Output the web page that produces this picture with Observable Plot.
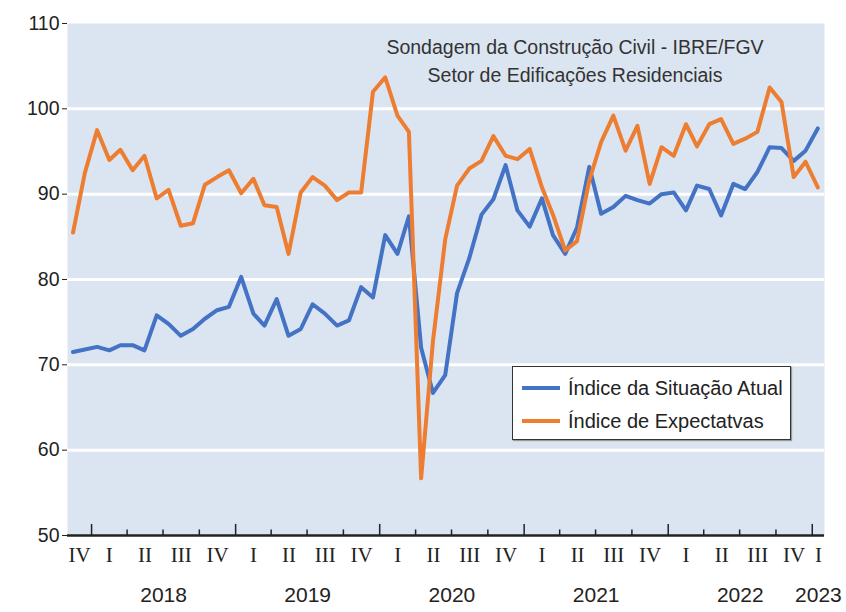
<!DOCTYPE html>
<html>
<head>
<meta charset="utf-8">
<script src="https://cdn.jsdelivr.net/npm/d3@7"></script>
<script src="https://cdn.jsdelivr.net/npm/@observablehq/plot@0.6"></script>
<style>
  body { margin: 0; background: #fff; }
  #wrap { position: relative; width: 846px; height: 612px; font-family: "Liberation Sans", Arial, sans-serif; }
  #title { position: absolute; left: 375px; width: 400px; top: 33px; text-align: center; color: #333; font-size: 19.5px; line-height: 28px; }
  #legend { position: absolute; left: 512px; top: 366px; width: 279px; height: 74px; border: 1.5px solid #333; background: #fff; box-shadow: 1px 1px 1px #999; box-sizing: border-box; }
  .row { position: absolute; left: 0; height: 30px; display: flex; align-items: center; font-size: 20px; color: #222; }
  .swatch { width: 38px; height: 0; border-top: 4px solid; margin-left: 9px; margin-right: 8px; }
</style>
</head>
<body>
<div id="wrap">
  <div id="chart"></div>
  <div id="title"><div>Sondagem da Construção Civil - IBRE/FGV</div><div>Setor de Edificações Residenciais</div></div>
  <div id="legend"></div>
</div>
<script>
// ---- data ----
const months = ["2017-11","2017-12",
  "2018-01","2018-02","2018-03","2018-04","2018-05","2018-06","2018-07","2018-08","2018-09","2018-10","2018-11","2018-12",
  "2019-01","2019-02","2019-03","2019-04","2019-05","2019-06","2019-07","2019-08","2019-09","2019-10","2019-11","2019-12",
  "2020-01","2020-02","2020-03","2020-04","2020-05","2020-06","2020-07","2020-08","2020-09","2020-10","2020-11","2020-12",
  "2021-01","2021-02","2021-03","2021-04","2021-05","2021-06","2021-07","2021-08","2021-09","2021-10","2021-11","2021-12",
  "2022-01","2022-02","2022-03","2022-04","2022-05","2022-06","2022-07","2022-08","2022-09","2022-10","2022-11","2022-12",
  "2023-01"];
const situacaoAtual = [71.5, 71.8,
  72.1, 71.7, 72.3, 72.3, 71.7, 75.8, 74.8, 73.4, 74.2, 75.4, 76.4, 76.8,
  80.3, 76.0, 74.6, 77.7, 73.4, 74.2, 77.1, 76.0, 74.6, 75.2, 79.1, 77.9,
  85.2, 83.0, 87.4, 72.0, 66.7, 68.8, 78.4, 82.5, 87.6, 89.4, 93.4, 88.1,
  86.2, 89.5, 85.2, 83.0, 86.1, 93.2, 87.7, 88.5, 89.8, 89.3, 88.9, 90.0,
  90.2, 88.1, 91.0, 90.6, 87.5, 91.2, 90.6, 92.6, 95.5, 95.4, 93.9, 95.1,
  97.7];
const expectativas = [85.5, 92.5,
  97.5, 94.0, 95.2, 92.8, 94.5, 89.5, 90.5, 86.3, 86.6, 91.1, 92.0, 92.8,
  90.1, 91.8, 88.7, 88.5, 83.0, 90.2, 92.0, 91.0, 89.3, 90.2, 90.2, 102.0,
  103.7, 99.2, 97.3, 56.7, 72.8, 84.7, 91.0, 93.0, 93.9, 96.8, 94.5, 94.1,
  95.3, 90.8, 87.6, 83.4, 84.5, 91.6, 96.1, 99.2, 95.1, 98.0, 91.2, 95.5,
  94.5, 98.2, 95.6, 98.2, 98.8, 95.9, 96.5, 97.3, 102.5, 100.8, 92.0, 93.8,
  90.8];
const seriesNames = ["Índice da Situação Atual", "Índice de Expectatvas"];
const seriesColors = ["#4472c4", "#ed7d31"];
const yTicks = [50, 60, 70, 80, 90, 100, 110];
const gridValues = [60, 70, 80, 90, 100];
const quarterStarts = ["2017-10",
  "2018-01","2018-04","2018-07","2018-10",
  "2019-01","2019-04","2019-07","2019-10",
  "2020-01","2020-04","2020-07","2020-10",
  "2021-01","2021-04","2021-07","2021-10",
  "2022-01","2022-04","2022-07","2022-10",
  "2023-01"];
const quarterLabels = ["IV",
  "I","II","III","IV",
  "I","II","III","IV",
  "I","II","III","IV",
  "I","II","III","IV",
  "I","II","III","IV",
  "I"];
const years = ["2018", "2019", "2020", "2021", "2022", "2023"];

// ---- build ----
const parseM = d3.utcParse("%Y-%m");
const parseY = d3.utcParse("%Y");
const xDomain = [parseM("2017-11"), parseM("2023-02")];
const midMonth = m => d3.utcDay.offset(parseM(m), 14);
const clipMid = (a, b) => new Date((Math.max(+a, +xDomain[0]) + Math.min(+b, +xDomain[1])) / 2);

const data = [];
months.forEach((m, i) => {
  data.push({date: midMonth(m), value: situacaoAtual[i], serie: seriesNames[0]});
});
months.forEach((m, i) => {
  data.push({date: midMonth(m), value: expectativas[i], serie: seriesNames[1]});
});

const qLab = quarterStarts.map((q, i) => {
  const s = parseM(q);
  return {date: clipMid(s, d3.utcMonth.offset(s, 3)), label: quarterLabels[i]};
});
const qTicks = quarterStarts.map(parseM).filter(d => d > xDomain[0])
  .map(d => ({date: d, year: d.getUTCMonth() === 0}));
const yLab = years.map(y => {
  const s = parseY(y);
  return {date: clipMid(s, d3.utcYear.offset(s, 1)), label: y};
});

const chart = Plot.plot({
  width: 846,
  height: 612,
  marginLeft: 67,
  marginRight: 22,
  marginTop: 23,
  marginBottom: 77,
  style: {fontFamily: "Liberation Sans, Arial, sans-serif", fontSize: "19.5px", color: "#222", background: "#fff"},
  x: {type: "utc", domain: xDomain, axis: null},
  y: {domain: [50, 110], ticks: yTicks, tickSize: 5, tickPadding: 3, label: null, tickFormat: d => d},
  color: {domain: seriesNames, range: seriesColors},
  marks: [
    Plot.frame({fill: "#dbe5f1", stroke: null}),
    Plot.ruleY(gridValues, {stroke: "#fff", strokeWidth: 3}),
    Plot.ruleY([50], {stroke: "#222", strokeWidth: 2.5}),
    Plot.ruleX(qTicks, {x: "date", y1: 50, y2: d => d.year ? 51.3 : 50.65, stroke: "#222", strokeWidth: 1.5}),
    Plot.line(data, {x: "date", y: "value", z: "serie", stroke: "serie", strokeWidth: 4, strokeLinejoin: "round"}),
    Plot.text(qLab, {x: "date", text: "label", frameAnchor: "bottom", dy: 26, fontFamily: "Liberation Serif, Times New Roman, serif", fontSize: 21, fill: "#222"}),
    Plot.text(yLab, {x: "date", text: "label", frameAnchor: "bottom", dy: 66, fontSize: 21, fill: "#222"})
  ]
});
document.getElementById("chart").appendChild(chart);

// legend
const legend = document.getElementById("legend");
seriesNames.forEach((name, i) => {
  const row = document.createElement("div");
  row.className = "row";
  row.style.top = (6 + i * 33) + "px";
  const sw = document.createElement("div");
  sw.className = "swatch";
  sw.style.borderTopColor = seriesColors[i];
  const tx = document.createElement("span");
  tx.textContent = name;
  row.appendChild(sw);
  row.appendChild(tx);
  legend.appendChild(row);
});
</script>
</body>
</html>
